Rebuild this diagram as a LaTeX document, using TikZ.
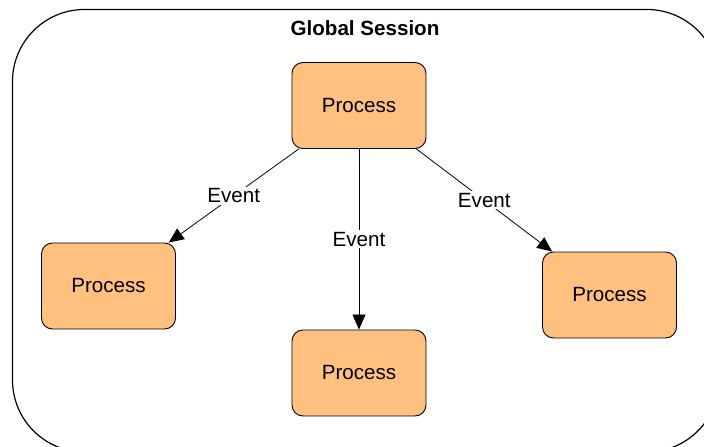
\documentclass[tikz,border=0pt]{standalone}
\usepackage{fontspec}
\setmainfont{Liberation Sans}
\usetikzlibrary{arrows.meta}
\definecolor{procfill}{RGB}{255,192,128}
\begin{document}
\begin{tikzpicture}[x=1pt,y=-1pt,
  proc/.style={draw=black, line width=0.9pt, fill=procfill, rounded corners=11pt,
    minimum width=134pt, minimum height=86pt, inner sep=0pt,
    font=\fontsize{20.6}{24}\selectfont},
  evt/.style={fill=white, inner sep=2pt, font=\fontsize{20.6}{24}\selectfont},
  flow/.style={draw, line width=0.8pt, -{Triangle[length=15pt,width=13pt]}}]
\useasboundingbox (0,0) rectangle (704,447);
% session frame, partly running off the page
\begin{scope}
  \clip (0,0) rectangle (704,447);
  \draw[line width=1.2pt, rounded corners=72pt] (12.5,9.5) rectangle (719,452);
\end{scope}
\node[font=\bfseries\fontsize{20.6}{24}\selectfont] (title) at (365,28) {Global Session};
% processes
\node[proc] (top) at (359,105.5) {Process};
\node[proc] (left) at (108.5,286) {Process};
\node[proc] (bottom) at (359,373) {Process};
\node[proc] (right) at (609.5,295) {Process};
% events
\draw[flow] (top) -- node[evt] {Event} (left);
\draw[flow] (top) -- node[evt] {Event} (bottom);
\draw[flow] (top) -- node[evt] {Event} (right);
\end{tikzpicture}
\end{document}
